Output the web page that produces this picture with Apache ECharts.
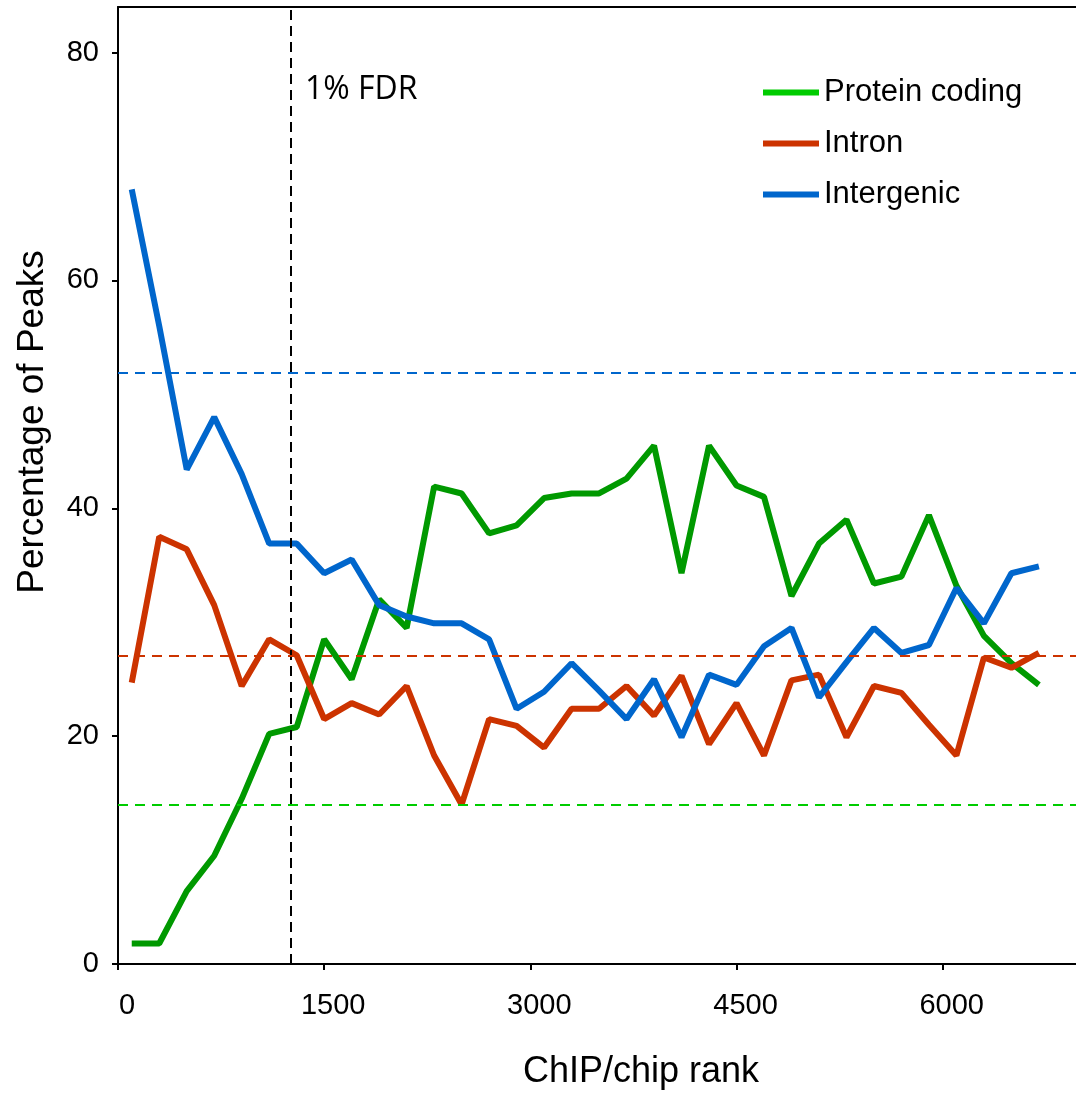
<!DOCTYPE html>
<html><head><meta charset="utf-8">
<script src="https://cdn.jsdelivr.net/npm/echarts@6/dist/echarts.min.js"></script>
<style>html,body{margin:0;padding:0;background:#fff}#c{width:1076px;height:1095px}</style>
</head><body><div id="c"></div>
<script>
// ChIP/chip rank bins (bin centres)
const ranks = [100,300,500,700,900,1100,1300,1500,1700,1900,2100,2300,2500,2700,2900,3100,3300,3500,3700,3900,4100,4300,4500,4700,4900,5100,5300,5500,5700,5900,6100,6300,6500,6700];
const proteinCoding = [1.8,1.8,6.4,9.5,14.5,20.2,20.8,28.5,25.0,32.0,29.5,41.9,41.3,37.8,38.5,40.9,41.3,41.3,42.6,45.5,34.3,45.5,42.0,41.0,32.3,36.9,39.0,33.4,34.0,39.4,33.2,28.8,26.4,24.5];
const intron = [24.7,37.5,36.4,31.5,24.4,28.5,27.1,21.5,22.9,21.9,24.4,18.3,14.0,21.5,20.9,19.0,22.4,22.4,24.4,21.8,25.3,19.3,22.9,18.3,24.9,25.4,19.9,24.4,23.8,21.0,18.3,26.9,26.0,27.3];
const intergenic = [68.0,56.0,43.4,48.0,43.0,36.9,36.9,34.3,35.5,31.5,30.5,29.9,29.9,28.5,22.4,23.9,26.4,24.0,21.5,25.0,19.9,25.4,24.5,27.9,29.5,23.4,26.5,29.5,27.3,28.0,33.0,29.9,34.3,34.9];
// genome background percentages (dashed reference lines)
const baselineProtein = 14.0;
const baselineIntron = 27.1;
const baselineIntergenic = 51.9;
const fdrRank = 1260;
const fdrLabel = '1% FDR';
const xTicks = [0,1500,3000,4500,6000];
const yTicks = [0,20,40,60,80];
const seriesNames = ['Protein coding','Intron','Intergenic'];

const chart = echarts.init(document.getElementById('c'), null, {renderer:'canvas'});
const pair = v => ranks.map((r,i)=>[r, v[i]]);
const F = 'Liberation Sans, Arial, sans-serif';
function ml(val, color, axis){
  const d = {}; d[axis] = val;
  return {silent:true, symbol:['none','none'], animation:false, label:{show:false},
    lineStyle:{color:color, width:2, type:[10,7]}, data:[d]};
}
const mlGreen = ml(baselineProtein,'#00cc00','yAxis');
mlGreen.data.push({xAxis:fdrRank, lineStyle:{color:'#000', width:2, type:[10,6]}});
chart.setOption({
  animation:false,
  grid:{left:118, right:0, top:7, bottom:129},
  xAxis:[{
    type:'value', min:0, max:6970,
    axisLine:{lineStyle:{color:'#000', width:2}},
    axisTick:{length:6, lineStyle:{color:'#000', width:2}, customValues:xTicks},
    axisLabel:{customValues:xTicks, fontSize:29, fontFamily:F, color:'#000', margin:27, padding:[0,0,0,18],
      formatter:v=>String(v)},
    splitLine:{show:false},
    name:'ChIP/chip rank', nameLocation:'middle', nameGap:90,
    nameTextStyle:{fontSize:36, fontFamily:F, color:'#000', padding:[0,0,0,88]}
  },{
    type:'value', min:0, max:6970, position:'top',
    axisLine:{show:true, lineStyle:{color:'#000', width:2}},
    axisTick:{show:false}, axisLabel:{show:false}, splitLine:{show:false}
  }],
  yAxis:{
    type:'value', min:0, max:84,
    axisLine:{show:true, lineStyle:{color:'#000', width:2}},
    axisTick:{show:true, length:6, lineStyle:{color:'#000', width:2}, customValues:yTicks},
    axisLabel:{customValues:yTicks, fontSize:29, fontFamily:F, color:'#000', margin:19, formatter:v=>String(v)},
    splitLine:{show:false}
  },
  legend:{
    orient:'vertical', left:758, top:72, itemWidth:56, itemHeight:6, itemGap:20,
    icon:'rect', selectedMode:false,
    textStyle:{fontSize:31, fontFamily:F, color:'#000', padding:[0,0,0,0], lineHeight:30},
    data:[
      {name:seriesNames[0], itemStyle:{color:'#00cc00'}},
      {name:seriesNames[1], itemStyle:{color:'#cc3300'}},
      {name:seriesNames[2], itemStyle:{color:'#0066cc'}}
    ]
  },
  graphic:[
    {type:'text', x:33, y:422, rotation:Math.PI/2,
     style:{text:'Percentage of Peaks', fontSize:37, fontFamily:F, fill:'#000', align:'center', verticalAlign:'middle'}},
    {type:'text', x:305, y:90,
     style:{text:fdrLabel, fontSize:32, fontFamily:'Open Sans, sans-serif', fill:'#000', align:'left', verticalAlign:'middle'}}
  ],
  series:[
    {name:seriesNames[0], type:'line', data:pair(proteinCoding), symbol:'none', color:'#009900',
     lineStyle:{width:6, color:'#009900'}, markLine:mlGreen},
    {name:seriesNames[1], type:'line', data:pair(intron), symbol:'none', color:'#cc3300',
     lineStyle:{width:6, color:'#cc3300'}, markLine:ml(baselineIntron,'#cc3300','yAxis')},
    {name:seriesNames[2], type:'line', data:pair(intergenic), symbol:'none', color:'#0066cc',
     lineStyle:{width:6, color:'#0066cc'}, markLine:ml(baselineIntergenic,'#0066cc','yAxis')}
  ]
});
</script></body></html>
